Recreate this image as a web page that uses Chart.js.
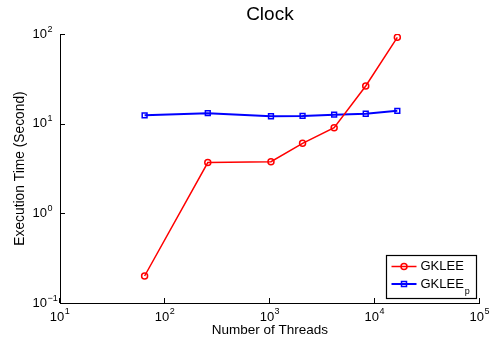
<!DOCTYPE html>
<html>
<head>
<meta charset="utf-8">
<script src="https://cdn.jsdelivr.net/npm/chart.js@4/dist/chart.umd.min.js"></script>
<style>
  html, body { margin: 0; padding: 0; background: #fff; }
  #wrap { width: 494px; height: 341px; }
</style>
</head>
<body>
<div id="wrap"><canvas id="chart"></canvas></div>
<script>
'use strict'
const FONT = "'Liberation Sans', Arial, Helvetica, sans-serif"

const threads = [64, 256, 1024, 2048, 4096, 8192, 16384]
const gklee = [0.2, 3.68, 3.77, 6.04, 9.03, 26.3, 91.9]
const gkleeP = [12.4, 13.1, 12.1, 12.2, 12.6, 12.9, 13.9]
const xTicks = [10, 100, 1000, 10000, 100000]
const yTicks = [0.1, 1, 10, 100]
const seriesNames = ['GKLEE', 'GKLEE_p']

const toPoints = (ys) => threads.map((t, i) => ({ x: t, y: ys[i] }))
const exponent = (v) => String(Math.round(Math.log10(v))).replace('-', '\u2212')

// exponents of the "10" tick labels, drawn as superscripts
const powerLabels = {
  id: 'powerLabels',
  afterDraw(chart) {
    const { ctx, scales } = chart
    ctx.save()
    ctx.fillStyle = '#000'
    ctx.textAlign = 'left'
    ctx.textBaseline = 'alphabetic'
    ctx.font = '13px ' + FONT
    const w10 = ctx.measureText('10').width
    ctx.font = '9px ' + FONT
    scales.x.ticks.forEach((t) => {
      const px = scales.x.getPixelForValue(t.value)
      ctx.fillText(exponent(t.value), px - 3 + w10 / 2 + 0.5, scales.x.top + 11)
    })
    scales.y.ticks.forEach((t) => {
      const py = scales.y.getPixelForValue(t.value)
      ctx.fillText(exponent(t.value), scales.y.right - 12.5, py - 2.5)
    })
    ctx.restore()
  },
}

// matlab style ticks pointing into the plot
const innerTicks = {
  id: 'innerTicks',
  afterDraw(chart) {
    const { ctx, scales, chartArea } = chart
    ctx.save()
    ctx.strokeStyle = '#000'
    ctx.lineWidth = 1
    ctx.beginPath()
    scales.x.ticks.forEach((t) => {
      const px = Math.round(scales.x.getPixelForValue(t.value)) - 0.5
      ctx.moveTo(px, chartArea.bottom)
      ctx.lineTo(px, chartArea.bottom - 5)
    })
    scales.y.ticks.forEach((t) => {
      const py = Math.round(scales.y.getPixelForValue(t.value)) + 0.5
      ctx.moveTo(chartArea.left, py)
      ctx.lineTo(chartArea.left + 5, py)
    })
    ctx.stroke()
    ctx.restore()
  },
}

// legend box in the lower right corner of the axes
const boxLegend = {
  id: 'boxLegend',
  afterDraw(chart) {
    const { ctx, chartArea } = chart
    const w = 90, h = 43
    const left = Math.round(chartArea.right - 4 - w) + 0.5
    const top = Math.round(chartArea.bottom - 5 - h) + 0.5
    ctx.save()
    ctx.fillStyle = '#fff'
    ctx.fillRect(left, top, w, h)
    ctx.strokeStyle = '#000'
    ctx.lineWidth = 1.2
    ctx.strokeRect(left, top, w, h)
    chart.data.datasets.forEach((ds, i) => {
      const y = top + 11 + i * 17.5
      ctx.strokeStyle = ds.borderColor
      ctx.lineWidth = ds.borderWidth
      ctx.beginPath()
      ctx.moveTo(left + 5, y)
      ctx.lineTo(left + 30, y)
      ctx.stroke()
      ctx.lineWidth = ds.pointBorderWidth
      ctx.beginPath()
      if (ds.pointStyle === 'rect') ctx.rect(left + 15, y - 2.5, 5, 5)
      else ctx.arc(left + 17.5, y, 3, 0, Math.PI * 2)
      ctx.stroke()
      const [name, sub] = seriesNames[i].split('_')
      ctx.fillStyle = '#000'
      ctx.textBaseline = 'middle'
      ctx.font = '13px ' + FONT
      ctx.fillText(name, left + 34, y)
      if (sub) {
        const nw = ctx.measureText(name).width
        ctx.font = '9px ' + FONT
        ctx.fillText(sub, left + 34 + nw + 1, y + 8)
      }
    })
    ctx.restore()
  },
}

const ctx = document.getElementById('chart').getContext('2d')

const config = {
  type: 'line',
  data: {
    datasets: [
      {
        label: seriesNames[0],
        data: toPoints(gklee),
        borderColor: '#ff0000',
        backgroundColor: 'rgba(0,0,0,0)',
        borderWidth: 1.5,
        pointStyle: 'circle',
        pointRadius: 3,
        pointBorderWidth: 1.5,
        pointBackgroundColor: 'rgba(0,0,0,0)',
        tension: 0,
      },
      {
        label: seriesNames[1],
        data: toPoints(gkleeP),
        borderColor: '#0000ff',
        backgroundColor: 'rgba(0,0,0,0)',
        borderWidth: 2,
        pointStyle: 'rect',
        pointRadius: 3.4,
        pointBorderWidth: 1.5,
        pointBackgroundColor: 'rgba(0,0,0,0)',
        tension: 0,
      },
    ],
  },
  options: {
    responsive: true,
    maintainAspectRatio: false,
    animation: false,
    layout: { padding: { left: 0, right: 14, top: 0, bottom: 0 } },
    scales: {
      x: {
        type: 'logarithmic',
        min: 10,
        max: 100000,
        afterBuildTicks: (scale) => { scale.ticks = xTicks.map((v) => ({ value: v })) },
        afterFit: (scale) => { scale.height = 38 },
        ticks: {
          callback: () => '10',
          font: { family: FONT, size: 13 },
          color: '#000',
          padding: 7,
          labelOffset: -3,
          maxRotation: 0,
          autoSkip: false,
        },
        grid: { display: true, drawOnChartArea: false, drawTicks: false },
        border: { display: true, color: '#000', width: 1 },
        title: {
          display: true,
          text: 'Number of Threads',
          font: { family: FONT, size: 13.5 },
          color: '#000',
          padding: { top: 0, bottom: 3 },
        },
      },
      y: {
        type: 'logarithmic',
        min: 0.1,
        max: 100,
        afterBuildTicks: (scale) => { scale.ticks = yTicks.map((v) => ({ value: v })) },
        afterFit: (scale) => { scale.width = 60 },
        ticks: {
          callback: () => '10',
          font: { family: FONT, size: 13 },
          color: '#000',
          padding: 13,
          autoSkip: false,
        },
        grid: { display: true, drawOnChartArea: false, drawTicks: false },
        border: { display: true, color: '#000', width: 1 },
        title: {
          display: true,
          text: 'Execution Time (Second)',
          font: { family: FONT, size: 13.8 },
          color: '#000',
          padding: { top: 12, bottom: 0 },
        },
      },
    },
    plugins: {
      legend: { display: false },
      tooltip: { enabled: false },
      title: {
        display: true,
        text: 'Clock',
        fullSize: false,
        color: '#000',
        font: { family: FONT, size: 19, weight: 'normal' },
        padding: { top: 3.6, bottom: 7.6 },
      },
    },
  },
  plugins: [innerTicks, powerLabels, boxLegend],
}

const chart = new Chart(ctx, config)
</script>
</body>
</html>
